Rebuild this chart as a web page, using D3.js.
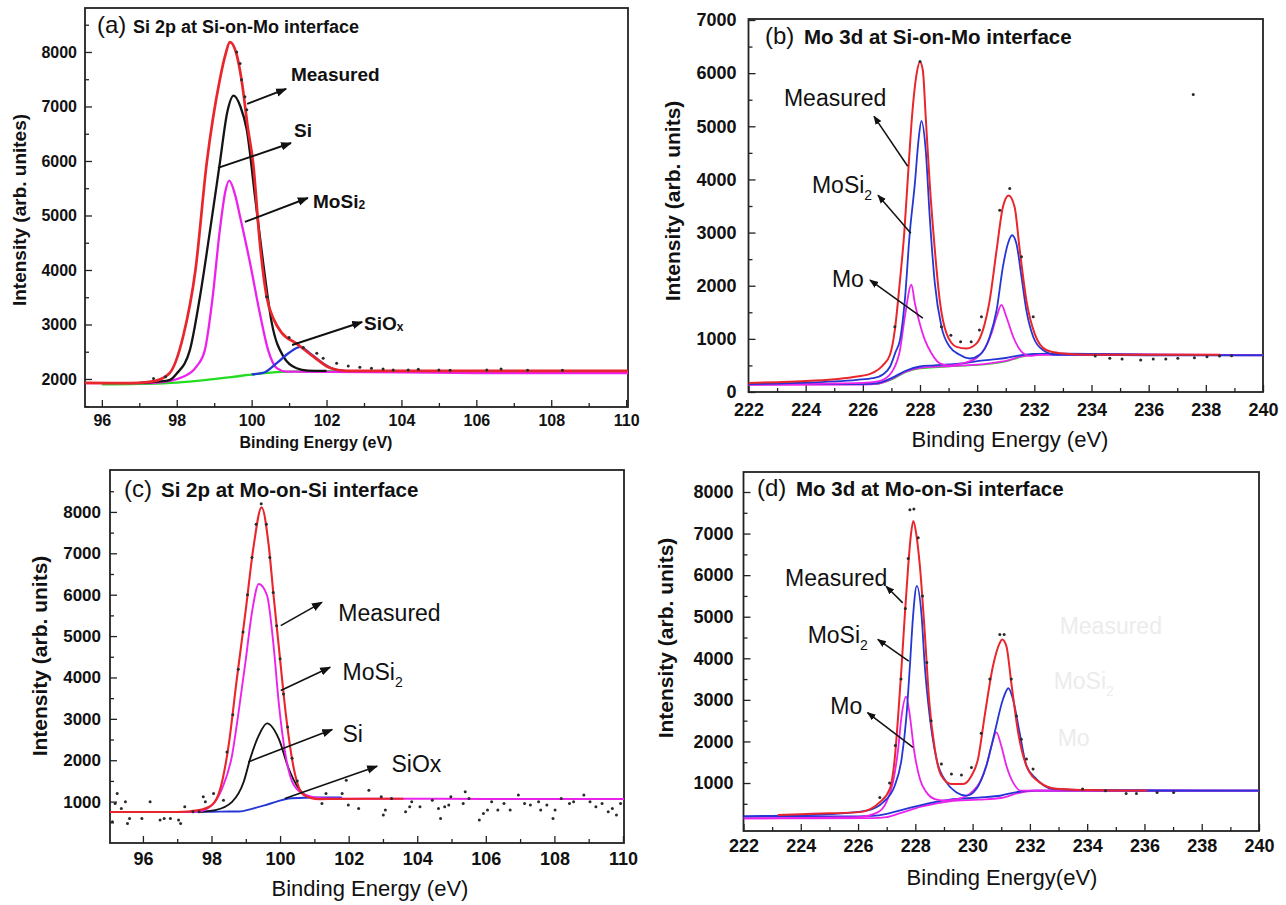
<!doctype html>
<html>
<head>
<meta charset="utf-8">
<script src="https://cdn.jsdelivr.net/npm/d3@7"></script>
<style>
  body { margin: 0; background: #fff; }
  svg text { font-family: "Liberation Sans", Arial, Helvetica, sans-serif; fill: #111; }
</style>
</head>
<body>
<script>
// ---------- (a) Si 2p at Si-on-Mo interface ----------
var aXTicks = [96, 98, 100, 102, 104, 106, 108, 110];
var aYTicks = [2000, 3000, 4000, 5000, 6000, 7000, 8000];
var aFit = [[95.55,1930],[96.5,1925],[97.0,1930],[97.4,1960],[97.8,2100],[98.17,2780],[98.5,4000],[98.8,5960],[99.15,7490],[99.3,7950],[99.42,8180],[99.6,7950],[99.73,7490],[99.9,6600],[100.04,5960],[100.22,4490],[100.4,3510],[100.6,3080],[100.8,2850],[101.2,2650],[101.65,2410],[102.1,2200],[102.5,2150],[104,2150],[106,2150],[110.05,2150]];
var aSi = [[97.0,1930],[97.5,1950],[97.82,1985],[98.0,2100],[98.35,2530],[98.62,3510],[98.89,4730],[99.15,5960],[99.35,6900],[99.52,7200],[99.7,7000],[99.87,6570],[100.09,5345],[100.31,4120],[100.54,3020],[100.85,2410],[101.2,2196],[101.5,2155],[102,2150]];
var aMoSi2 = [[95.55,1925],[97.0,1925],[97.5,1935],[98.17,2040],[98.53,2230],[98.75,2530],[98.96,3510],[99.15,4730],[99.3,5450],[99.4,5640],[99.55,5400],[99.69,4980],[99.96,4120],[100.22,3200],[100.44,2530],[100.67,2200],[100.93,2135],[102,2130],[104,2120],[106,2110],[110.05,2110]];
var aSiOx = [[100.0,2085],[100.3,2110],[100.67,2290],[101.0,2480],[101.3,2590],[101.56,2470],[101.9,2290],[102.27,2165],[102.5,2150]];
var aBackground = [[96.0,1900],[97.0,1910],[98.0,1935],[98.8,1985],[99.5,2040],[100.1,2090],[100.8,2130],[101.5,2140],[102.5,2145]];
var aMeasured = [[97.38,2010],[97.7,2040],[99.6,8000],[99.69,7790],[99.73,7490],[99.82,7180],[99.87,6940],[100.4,3510],[101.0,2760],[101.38,2580],[101.74,2470],[101.91,2380],[102.27,2290],[102.58,2240],[102.89,2215],[103.2,2195],[103.51,2185],[103.78,2165],[104.18,2165],[104.45,2180],[105.0,2165],[105.3,2160],[106.28,2165],[106.66,2185],[107.37,2160],[108.3,2160]];
var aLabels = [
  {parts: [["Measured"]], x: 101.05, y: 7470},
  {parts: [["Si"]], x: 101.13, y: 6440},
  {parts: [["MoSi"], ["2", "sub"]], x: 101.64, y: 5140},
  {parts: [["SiO"], ["x", "sub"]], x: 103.0, y: 2900}
];
var aArrows = [[99.88,7046,100.92,7321],[99.1,5872,101.05,6330],[99.82,4881,101.5,5321],[101.08,2624,102.95,3046]];

// ---------- (b) Mo 3d at Si-on-Mo interface ----------
var bXTicks = [222, 224, 226, 228, 230, 232, 234, 236, 238, 240];
var bYTicks = [0, 1000, 2000, 3000, 4000, 5000, 6000, 7000];
var bFit = [[222,170],[223,185],[224,205],[225,240],[225.8,290],[226.3,350],[226.7,500],[226.95,700],[227.12,1170],[227.3,2100],[227.45,3000],[227.6,4240],[227.72,5180],[227.87,5950],[228.0,6210],[228.1,6050],[228.2,5175],[228.34,3920],[228.52,2670],[228.69,1730],[228.93,1100],[229.28,850],[229.63,820],[229.98,915],[230.2,1165],[230.44,1730],[230.68,2670],[230.9,3480],[231.1,3700],[231.31,3480],[231.49,2670],[231.72,1730],[232.01,1100],[232.42,790],[232.9,730],[234,700],[236,700],[238.5,700]];
var bMoSi2 = [[222,150],[223,160],[224,175],[225,200],[225.8,230],[226.36,260],[226.7,330],[226.95,475],[227.15,760],[227.3,980],[227.47,1730],[227.64,2980],[227.82,3920],[227.95,4750],[228.05,5100],[228.2,4550],[228.34,3300],[228.52,2040],[228.75,1230],[229.04,850],[229.39,700],[229.74,630],[230.09,700],[230.44,1040],[230.68,1540],[230.9,2355],[231.08,2800],[231.22,2950],[231.37,2800],[231.55,2170],[231.72,1540],[231.96,1040],[232.3,790],[232.77,700],[234,700],[236,690],[240,690]];
var bMo = [[222,140],[224,150],[225,160],[226,170],[226.48,195],[226.71,230],[227.06,415],[227.3,790],[227.47,1415],[227.7,2020],[227.82,1670],[227.99,1290],[228.17,980],[228.4,730],[228.69,540],[229.0,500],[229.3,520],[229.63,560],[229.98,640],[230.27,820],[230.5,1100],[230.68,1415],[230.85,1640],[231.02,1415],[231.26,1040],[231.55,760],[231.84,680],[232.2,700],[234,700],[240,690]];
var bBackBlue = [[222,150],[226,150],[226.5,165],[227,260],[227.5,400],[228,480],[228.5,500],[229,520],[229.5,540],[230,580],[230.5,610],[231,640],[231.5,690],[232,715],[233,720],[236,705],[240,695]];
var bBackPink = [[222,135],[226,140],[226.5,155],[227,245],[227.5,385],[228,455],[228.5,475],[229,485],[229.5,500],[230,515],[230.5,545],[231,585],[231.5,665],[232,705],[233,715],[240,695]];
var bBackGreen = [[226.5,145],[227,225],[227.5,370],[228,440],[228.5,460],[229,475],[229.5,490],[230,505],[230.5,530],[231,570],[231.5,650],[232,700],[233,710],[234,705]];
var bMeasured = [[227.12,1230],[228.0,6220],[228.75,1230],[229.08,1070],[229.42,945],[229.79,945],[230.08,1165],[230.15,1415],[230.79,3420],[231.14,3830],[231.55,2545],[231.96,1415],[234.13,677],[234.64,633],[235.07,620],[235.72,602],[236.16,620],[236.6,620],[237.02,633],[237.56,5600],[237.6,645],[238.04,664],[238.48,677],[238.9,683]];
var bLabels = [
  {parts: [["Measured"]], x: 223.24, y: 5376},
  {parts: [["MoSi"], ["2", "sub"]], x: 224.22, y: 3741},
  {parts: [["Mo"]], x: 224.92, y: 1974}
];
var bArrows = [[227.57,4248,226.39,5188],[227.68,2989,226.53,3703],[228.1,1391,226.25,2105]];

// ---------- (c) Si 2p at Mo-on-Si interface ----------
var cXTicks = [96, 98, 100, 102, 104, 106, 108, 110];
var cYTicks = [1000, 2000, 3000, 4000, 5000, 6000, 7000, 8000];
var cFit = [[95.04,750],[96,750],[97,750],[97.63,795],[98.01,915],[98.26,1320],[98.5,2360],[98.74,3970],[98.99,5570],[99.23,7180],[99.46,8110],[99.67,7180],[99.81,5980],[99.96,4770],[100.16,3170],[100.4,1800],[100.69,1160],[101.13,1060],[101.6,1065],[102.5,1070],[103.6,1070]];
var cMoSi2 = [[95.04,745],[97,745],[97.6,755],[98.01,915],[98.31,1320],[98.6,2120],[98.79,3165],[98.99,4370],[99.18,5570],[99.38,6260],[99.62,5980],[99.81,4770],[99.96,3400],[100.16,2120],[100.4,1400],[100.74,1160],[101.22,1080],[102,1070],[104,1070],[106,1065],[108,1065],[110.03,1065]];
var cSi = [[97.6,750],[98.11,795],[98.6,995],[98.94,1480],[99.13,2040],[99.38,2600],[99.62,2890],[99.96,2520],[100.25,1800],[100.54,1320],[100.84,1115],[101.2,1075],[101.6,1070]];
var cSiOx = [[97.5,755],[98.0,755],[98.5,760],[98.8,760],[99.2,830],[99.57,915],[99.9,1000],[100.25,1075],[100.7,1095],[101.13,1100],[101.8,1100]];
var cMeasured = [[95.11,514],[95.19,956],[95.25,1197],[95.37,835],[95.49,996],[95.55,474],[95.61,594],[95.97,594],[96.21,996],[96.5,554],[96.62,594],[96.8,594],[97.04,554],[97.1,474],[97.22,876],[97.46,755],[97.64,755],[97.76,1116],[97.82,996],[98.06,1197],[98.35,1036],
  [98.45,2200],[98.62,3100],[98.78,4200],[98.92,5100],[99.05,6000],[99.18,6900],[99.3,7700],[99.45,8200],[99.6,7700],[99.7,6900],[99.8,6050],[99.9,5250],[100.0,4450],[100.1,3600],[100.22,2800],[100.35,2050],[100.5,1500],
  [101.22,956],[101.34,1197],[101.81,1197],[101.93,1518],[101.99,916],[102.29,835],[102.59,1277],[102.95,1116],[103.01,675],[103.07,795],[103.25,1076],[103.66,755],[103.78,876],[103.84,996],[104.08,876],[104.44,1036],[104.62,835],[104.68,594],[104.8,876],[104.92,916],[104.98,1116],[105.34,956],[105.4,1237],[105.51,1076],[105.81,554],[105.93,715],[106.05,795],[106.17,996],[106.35,795],[106.53,956],[106.71,795],[106.95,1157],[107.13,956],[107.3,916],[107.54,996],[107.6,795],[107.78,916],[107.96,594],[108.02,795],[108.2,1076],[108.44,956],[108.56,996],[108.86,1157],[109.04,996],[109.21,876],[109.39,956],[109.57,755],[109.69,835],[109.81,675],[109.93,956]];
var cLabels = [
  {parts: [["Measured"]], x: 101.7, y: 5373},
  {parts: [["MoSi"], ["2", "sub"]], x: 101.82, y: 3928},
  {parts: [["Si"]], x: 101.82, y: 2441},
  {parts: [["SiOx"]], x: 103.25, y: 1718}
];
var cArrows = [[100.02,5253,101.22,5814],[100.02,3687,101.46,4248],[99.07,1959,101.52,2740],[100.14,1077,102.83,1855]];

// ---------- (d) Mo 3d at Mo-on-Si interface ----------
var dXTicks = [222, 224, 226, 228, 230, 232, 234, 236, 238, 240];
var dYTicks = [1000, 2000, 3000, 4000, 5000, 6000, 7000, 8000];
var dFit = [[223.2,230],[224,250],[225,270],[226.06,300],[226.76,540],[227.11,860],[227.28,1580],[227.4,2610],[227.52,3810],[227.63,5010],[227.75,6210],[227.85,7000],[227.93,7300],[228.03,7000],[228.16,6210],[228.33,4610],[228.48,3010],[228.68,1815],[228.91,1175],[229.26,975],[229.67,975],[229.96,1175],[230.19,1580],[230.42,2610],[230.71,3810],[230.95,4370],[231.03,4450],[231.18,4290],[231.35,3415],[231.59,2215],[231.88,1415],[232.34,1015],[232.92,860],[234,830],[235,820],[236.1,820]];
var dMoSi2 = [[222,200],[223,210],[224,225],[225,250],[226.3,335],[226.88,540],[227.28,935],[227.52,1575],[227.69,2615],[227.81,3815],[227.92,5010],[228.05,5740],[228.22,5010],[228.33,3815],[228.5,2615],[228.74,1575],[229.09,1015],[229.44,775],[229.79,695],[230.13,855],[230.48,1415],[230.77,2215],[231.06,3015],[231.25,3280],[231.41,3015],[231.64,2215],[231.88,1415],[232.23,1095],[232.81,855],[234,830],[236,820],[238,815],[240,815]];
var dMo = [[222,150],[224,160],[225,170],[226,180],[226.7,300],[226.99,540],[227.22,1015],[227.4,1815],[227.52,2615],[227.68,3080],[227.81,2615],[227.95,1815],[228.16,1095],[228.39,775],[228.68,615],[229.0,580],[229.5,620],[229.96,775],[230.25,1015],[230.48,1415],[230.66,1895],[230.83,2220],[231.0,1895],[231.18,1415],[231.41,1015],[231.7,815],[232.2,820],[234,820],[240,815]];
var dBackBlue = [[222,200],[226,200],[226.5,210],[227,260],[227.4,330],[228.2,470],[229.2,600],[230.2,650],[231,700],[231.6,790],[232.2,815],[234,820],[240,815]];
var dBackPink = [[222,150],[226.5,155],[227,180],[227.5,280],[228.2,430],[229.2,560],[230.2,600],[231,640],[231.6,760],[232.2,810],[240,815]];
var dMeasured = [[226.76,650],[227.1,1000],[227.3,1900],[227.5,3500],[227.65,5200],[227.75,6400],[227.81,7570],[227.95,7590],[228.1,6900],[228.25,5500],[228.4,3900],[228.55,2500],[228.91,1455],[229.26,1215],[229.61,1190],[229.96,1375],[230.3,2200],[230.6,3500],[230.95,4570],[231.1,4570],[231.35,3500],[231.53,2615],[231.7,2055],[231.88,1575],[232.11,1335],[233.84,855],[234.64,815],[235.36,750],[235.72,750],[236.44,775],[237.02,775]];
var dLabels = [
  {parts: [["Measured"]], x: 223.45, y: 5748},
  {parts: [["MoSi"], ["2", "sub"]], x: 224.24, y: 4374},
  {parts: [["Mo"]], x: 225.03, y: 2655},
  {parts: [["Measured"]], x: 233.04, y: 4573, ghost: true},
  {parts: [["MoSi"], ["2", "sub"]], x: 232.83, y: 3254, ghost: true},
  {parts: [["Mo"]], x: 232.97, y: 1887, ghost: true}
];
var dArrows = [[227.56,5333,226.98,5731],[227.77,3933,226.69,4453],[227.92,1856,226.33,2695]];

// colours
var RED = "#e8262b", BLACK = "#141414", MAGENTA = "#ec22ec", BLUE = "#2436d4", GREEN = "#22dd22";

var svg = d3.select("body").append("svg")
  .attr("width", 1286).attr("height", 905);

var defs = svg.append("defs");
[["headBig", 11], ["headSmall", 9]].forEach(function (m) {
  defs.append("marker")
    .attr("id", m[0])
    .attr("viewBox", "0 0 10 10")
    .attr("refX", 9).attr("refY", 5)
    .attr("markerWidth", m[1]).attr("markerHeight", m[1])
    .attr("markerUnits", "userSpaceOnUse")
    .attr("orient", "auto")
    .append("path").attr("d", "M0,1.2 L10,5 L0,8.8 Z").attr("fill", "#111");
});

var panels = [
  {
    id: "a", box: {l: 85, t: 8, r: 628, b: 407}, xDom: [95.55, 110.05], yDom: [1486, 8807],
    xTicks: aXTicks, yTicks: aYTicks, xMinor: d3.range(95, 111, 1), yMinor: d3.range(1500, 9000, 500),
    xTickSize: 16, yTickSize: 16, xPad: 7, yPad: 8, lw: 2.3,
    series: [[aBackground, GREEN], [aMoSi2, MAGENTA], [aSi, BLACK], [aSiOx, BLUE], [aFit, RED, 2.7]],
    dots: aMeasured,
    tag: {t: "(a)", x: 97, y: 33, size: 24}, title: {t: "Si 2p at Si-on-Mo interface", x: 133, y: 33, size: 18},
    xTitle: {t: "Binding Energy (eV)", x: 316, y: 448, size: 16, w: "bold"},
    yTitle: {t: "Intensity (arb. unites)", x: 26, y: 210, size: 19},
    labels: aLabels, arrows: aArrows, labSize: 19, labWeight: "bold", head: "headBig", aw: 1.9
  },
  {
    id: "b", box: {l: 748.5, t: 19, r: 1263, b: 392}, xDom: [222, 240], yDom: [0, 7019],
    xTicks: bXTicks, yTicks: bYTicks, xMinor: d3.range(223, 240, 2), yMinor: d3.range(500, 7000, 1000),
    xTickSize: 18, yTickSize: 18, xPad: 10, yPad: 12, lw: 1.8,
    series: [[bBackGreen, GREEN, 1.2], [bBackPink, MAGENTA], [bBackBlue, BLUE], [bMo, MAGENTA], [bMoSi2, BLUE], [bFit, RED, 2]],
    dots: bMeasured,
    tag: {t: "(b)", x: 765, y: 44, size: 24}, title: {t: "Mo 3d at Si-on-Mo interface", x: 804, y: 44, size: 20.5},
    xTitle: {t: "Binding Energy  (eV)", x: 1010, y: 447, size: 22, w: "normal"},
    yTitle: {t: "Intensity  (arb. units)", x: 680, y: 201, size: 21},
    labels: bLabels, arrows: bArrows, labSize: 23, labWeight: "normal", head: "headSmall", aw: 1.5
  },
  {
    id: "c", box: {l: 110, t: 470, r: 624, b: 843}, xDom: [95.04, 110.03], yDom: [0, 9013],
    xTicks: cXTicks, yTicks: cYTicks, xMinor: d3.range(95, 111, 1), yMinor: d3.range(500, 9000, 500),
    xTickSize: 18, yTickSize: 17, xPad: 8, yPad: 9, lw: 1.9,
    series: [[cSiOx, BLUE], [cSi, BLACK], [cMoSi2, MAGENTA], [cFit, RED, 2.1]],
    dots: cMeasured,
    tag: {t: "(c)", x: 124, y: 497, size: 24}, title: {t: "Si 2p at Mo-on-Si interface", x: 161, y: 497, size: 20.5},
    xTitle: {t: "Binding Energy (eV)", x: 370, y: 896, size: 22, w: "normal"},
    yTitle: {t: "Intensity  (arb. units)", x: 47, y: 656, size: 21},
    labels: cLabels, arrows: cArrows, labSize: 23, labWeight: "normal", head: "headBig", aw: 1.6
  },
  {
    id: "d", box: {l: 743.5, t: 472, r: 1259, b: 831}, xDom: [222, 240], yDom: [-154, 8481],
    xTicks: dXTicks, yTicks: dYTicks, xMinor: d3.range(223, 240, 1), yMinor: d3.range(500, 8500, 500),
    xTickSize: 18, yTickSize: 18, xPad: 7, yPad: 10, lw: 1.8,
    series: [[dBackPink, MAGENTA], [dBackBlue, BLUE], [dMo, MAGENTA], [dMoSi2, BLUE], [dFit, RED, 2]],
    dots: dMeasured,
    tag: {t: "(d)", x: 757, y: 496, size: 24}, title: {t: "Mo 3d at Mo-on-Si interface", x: 796, y: 496, size: 20.5},
    xTitle: {t: "Binding Energy(eV)", x: 1002, y: 885, size: 22, w: "normal"},
    yTitle: {t: "Intensity  (arb. units)", x: 673, y: 638, size: 21},
    labels: dLabels, arrows: dArrows, labSize: 23, labWeight: "normal", head: "headSmall", aw: 1.5
  }
];

panels.forEach(drawPanel);

function drawPanel(p) {
  var g = svg.append("g").attr("class", "panel-" + p.id);
  var x = d3.scaleLinear().domain(p.xDom).range([p.box.l, p.box.r]);
  var y = d3.scaleLinear().domain(p.yDom).range([p.box.b, p.box.t]);

  defs.append("clipPath").attr("id", "clip-" + p.id)
    .append("rect")
    .attr("x", p.box.l).attr("y", p.box.t)
    .attr("width", p.box.r - p.box.l).attr("height", p.box.b - p.box.t);

  // minor ticks (inward, no labels)
  var xm = p.xMinor.filter(function (v) { return v > p.xDom[0] && v < p.xDom[1] && p.xTicks.indexOf(v) < 0; });
  var ym = p.yMinor.filter(function (v) { return v > p.yDom[0] && v < p.yDom[1] && p.yTicks.indexOf(v) < 0; });
  g.append("g").attr("transform", "translate(0," + p.box.b + ")")
    .call(d3.axisBottom(x).tickValues(xm).tickSize(-4).tickFormat(""))
    .call(function (s) { s.select(".domain").remove(); });
  g.append("g").attr("transform", "translate(" + p.box.l + ",0)")
    .call(d3.axisLeft(y).tickValues(ym).tickSize(-4).tickFormat(""))
    .call(function (s) { s.select(".domain").remove(); });

  // major ticks with labels
  var gx = g.append("g").attr("transform", "translate(0," + p.box.b + ")")
    .call(d3.axisBottom(x).tickValues(p.xTicks).tickSize(-7).tickPadding(p.xPad).tickFormat(d3.format("d")));
  var gy = g.append("g").attr("transform", "translate(" + p.box.l + ",0)")
    .call(d3.axisLeft(y).tickValues(p.yTicks).tickSize(-7).tickPadding(p.yPad).tickFormat(d3.format("d")));
  gx.select(".domain").remove();
  gy.select(".domain").remove();
  gx.selectAll("text").attr("font-size", p.xTickSize).attr("font-weight", "bold").attr("dy", "0.75em");
  gy.selectAll("text").attr("font-size", p.yTickSize).attr("font-weight", "bold");
  g.selectAll(".tick line").attr("stroke", "#222").attr("stroke-width", 1.3);

  // frame
  g.append("rect")
    .attr("x", p.box.l).attr("y", p.box.t)
    .attr("width", p.box.r - p.box.l).attr("height", p.box.b - p.box.t)
    .attr("fill", "none").attr("stroke", "#222").attr("stroke-width", 1.8);

  // curves
  var plot = g.append("g").attr("clip-path", "url(#clip-" + p.id + ")");
  var line = d3.line()
    .x(function (d) { return x(d[0]); })
    .y(function (d) { return y(d[1]); })
    .curve(d3.curveMonotoneX);
  p.series.forEach(function (s) {
    plot.append("path")
      .attr("d", line(s[0]))
      .attr("fill", "none")
      .attr("stroke", s[1])
      .attr("stroke-width", s[2] || p.lw)
      .attr("stroke-linejoin", "round");
  });

  // measured data points
  plot.selectAll("circle.pt").data(p.dots).enter().append("circle")
    .attr("class", "pt")
    .attr("cx", function (d) { return x(d[0]); })
    .attr("cy", function (d) { return y(d[1]); })
    .attr("r", 1.5)
    .attr("fill", "#2a2a2a");

  // arrows
  g.selectAll("line.arrow").data(p.arrows).enter().append("line")
    .attr("class", "arrow")
    .attr("x1", function (d) { return x(d[0]); })
    .attr("y1", function (d) { return y(d[1]); })
    .attr("x2", function (d) { return x(d[2]); })
    .attr("y2", function (d) { return y(d[3]); })
    .attr("stroke", "#111")
    .attr("stroke-width", p.aw)
    .attr("marker-end", "url(#" + p.head + ")");

  // labels next to the arrows
  p.labels.forEach(function (l) {
    var t = g.append("text")
      .attr("x", x(l.x)).attr("y", y(l.y))
      .attr("font-size", p.labSize)
      .attr("font-weight", p.labWeight)
      .style("fill", l.ghost ? "#ececec" : "#111");
    l.parts.forEach(function (part) {
      var ts = t.append("tspan").text(part[0]);
      if (part[1] === "sub") {
        ts.attr("font-size", Math.round(p.labSize * 0.62)).attr("dy", p.labWeight === "bold" ? 1 : 7);
      }
    });
  });

  // panel title
  g.append("text").attr("x", p.tag.x).attr("y", p.tag.y)
    .attr("font-size", p.tag.size).text(p.tag.t);
  g.append("text").attr("x", p.title.x).attr("y", p.title.y)
    .attr("font-size", p.title.size).attr("font-weight", "bold").text(p.title.t);

  // axis titles
  g.append("text").attr("x", p.xTitle.x).attr("y", p.xTitle.y)
    .attr("text-anchor", "middle")
    .attr("font-size", p.xTitle.size).attr("font-weight", p.xTitle.w)
    .text(p.xTitle.t);
  g.append("text")
    .attr("transform", "translate(" + p.yTitle.x + "," + p.yTitle.y + ") rotate(-90)")
    .attr("text-anchor", "middle")
    .attr("font-size", p.yTitle.size).attr("font-weight", "bold")
    .text(p.yTitle.t);
}
</script>
</body>
</html>
